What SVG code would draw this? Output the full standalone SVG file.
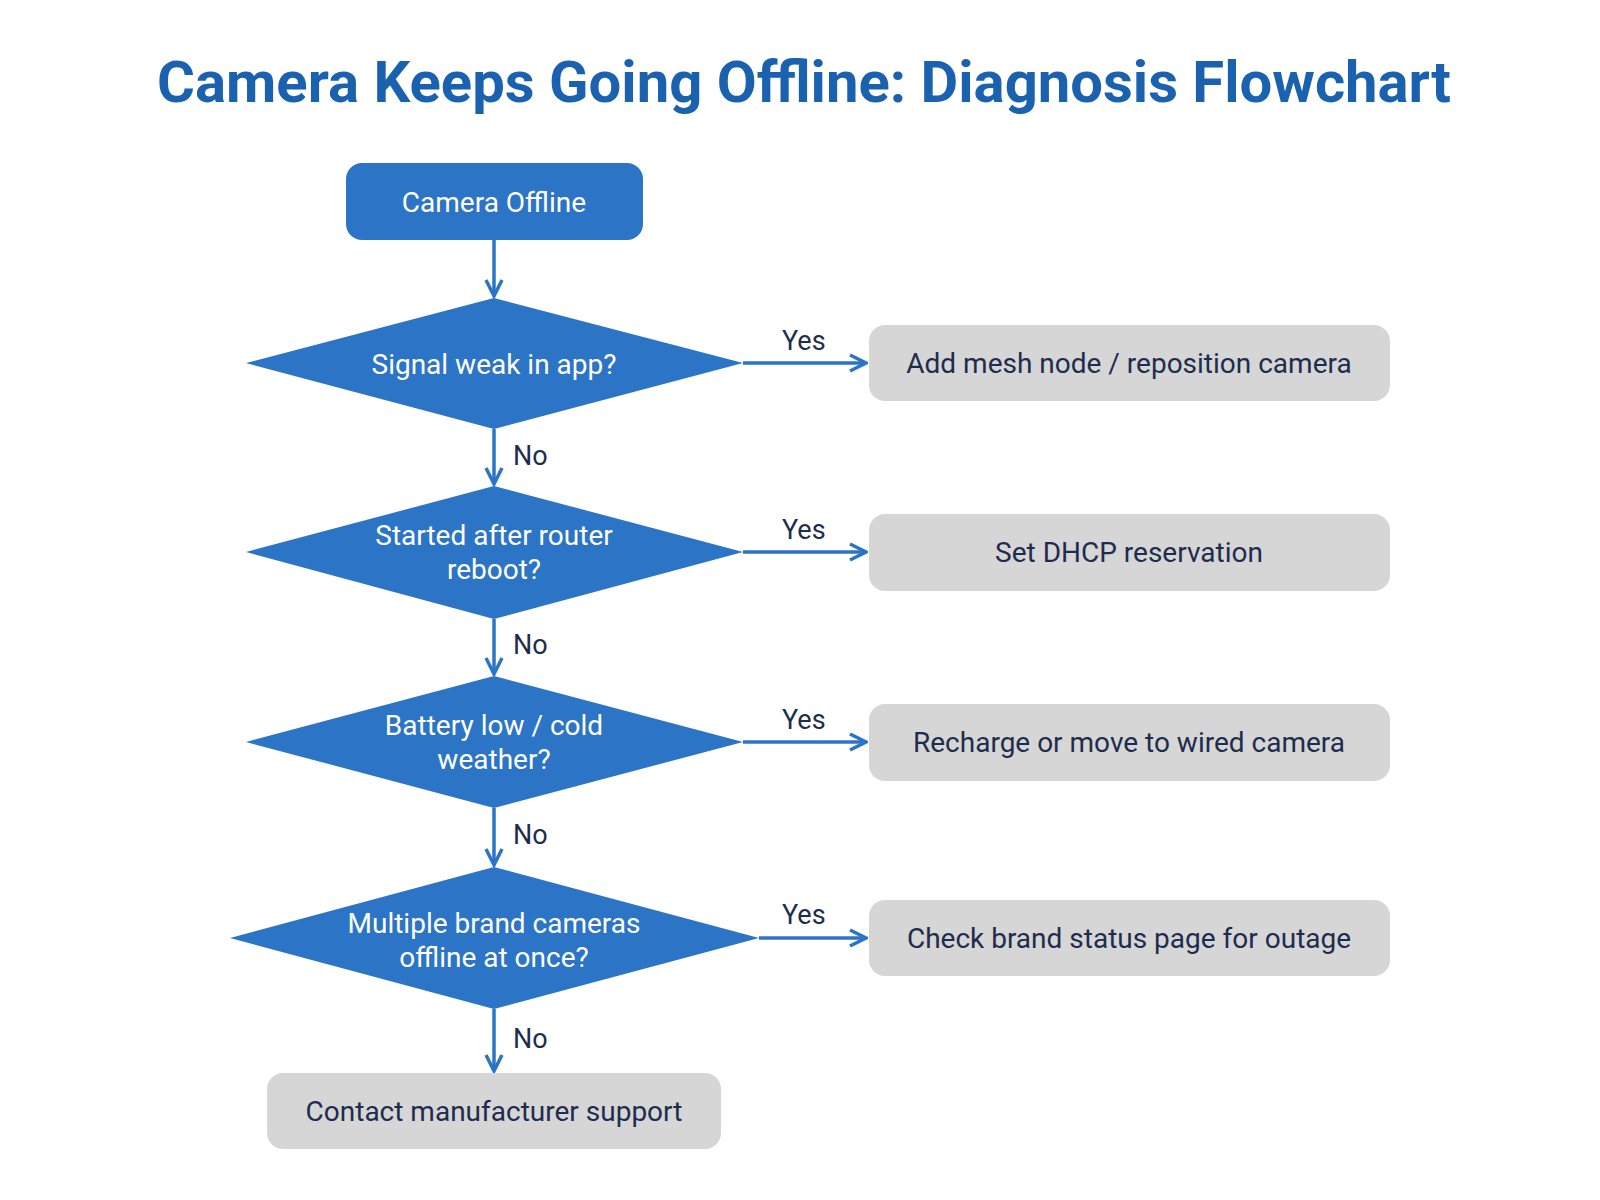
<svg xmlns="http://www.w3.org/2000/svg" width="1600" height="1200" viewBox="0 0 1600 1200">
<style>
.t{font-family:Roboto,"Liberation Sans",sans-serif;font-size:28px;text-anchor:middle;dominant-baseline:central}
.w{fill:#fff}.d{fill:#1e2d4d}
.b{fill:#2b74c6}.g{fill:#d6d6d6}
.c{stroke:#2b74c6;stroke-width:3.5;fill:none;marker-end:url(#a)}
.l{font-family:Roboto,"Liberation Sans",sans-serif;font-size:27px;fill:#1e2d4d}
</style>
<defs><marker id="a" markerWidth="10" markerHeight="10" refX="9" refY="5" orient="auto" markerUnits="userSpaceOnUse" viewBox="0 0 10 10"><path d="M1,0 L9,5 L1,10" fill="none" stroke="#2b74c6" stroke-width="2.5"/></marker>
<marker id="m" viewBox="0 0 20 20" refX="18" refY="10" markerWidth="20" markerHeight="20" orient="auto" markerUnits="userSpaceOnUse"><path d="M2,2 L18,10 L2,18" fill="none" stroke="#2b74c6" stroke-width="3.5"/></marker></defs>
<style>.c{marker-end:url(#m)}</style>
<rect width="1600" height="1200" fill="#fff"/>
<text x="804" y="82" font-family="Roboto,'Liberation Sans',sans-serif" font-weight="bold" font-size="58" fill="#1a62b0" text-anchor="middle" dominant-baseline="central">Camera Keeps Going Offline: Diagnosis Flowchart</text>
<g id="connectors">
<path class="c" d="M494 240V296"/>
<path class="c" d="M743 363H866"/>
<path class="c" d="M494 429V484"/>
<path class="c" d="M743 552H866"/>
<path class="c" d="M494 619V674"/>
<path class="c" d="M743 742H866"/>
<path class="c" d="M494 808V865"/>
<path class="c" d="M759 938H866"/>
<path class="c" d="M494 1009V1071"/>
<text class="l" x="782" y="350">Yes</text><text class="l" x="782" y="539">Yes</text><text class="l" x="782" y="729">Yes</text><text class="l" x="782" y="924">Yes</text>
<text class="l" x="513" y="465">No</text><text class="l" x="513" y="654">No</text><text class="l" x="513" y="844">No</text><text class="l" x="513" y="1048">No</text>
</g>
<g id="start"><rect class="b" x="346" y="163" width="297" height="77" rx="16"/><text class="t w" x="494" y="202">Camera Offline</text></g>
<g id="d1"><polygon class="b" points="494,298 743,363 494,429 246,363"/><text class="t w" x="494" y="364">Signal weak in app?</text></g>
<g id="d2"><polygon class="b" points="494,486 743,552 494,619 246,552"/><text class="t w" x="494" y="535">Started after router</text><text class="t w" x="494" y="569">reboot?</text></g>
<g id="d3"><polygon class="b" points="494,676 743,742 494,808 246,742"/><text class="t w" x="494" y="725">Battery low / cold</text><text class="t w" x="494" y="759">weather?</text></g>
<g id="d4"><polygon class="b" points="494,867 759,938 494,1009 230,938"/><text class="t w" x="494" y="923">Multiple brand cameras</text><text class="t w" x="494" y="957">offline at once?</text></g>
<g id="r1"><rect class="g" x="869" y="325" width="521" height="76" rx="16"/><text class="t d" x="1129" y="363">Add mesh node / reposition camera</text></g>
<g id="r2"><rect class="g" x="869" y="514" width="521" height="77" rx="16"/><text class="t d" x="1129" y="552">Set DHCP reservation</text></g>
<g id="r3"><rect class="g" x="869" y="704" width="521" height="77" rx="16"/><text class="t d" x="1129" y="742">Recharge or move to wired camera</text></g>
<g id="r4"><rect class="g" x="869" y="900" width="521" height="76" rx="16"/><text class="t d" x="1129" y="938">Check brand status page for outage</text></g>
<g id="end"><rect class="g" x="267" y="1073" width="454" height="76" rx="16"/><text class="t d" x="494" y="1111">Contact manufacturer support</text></g>
</svg>
